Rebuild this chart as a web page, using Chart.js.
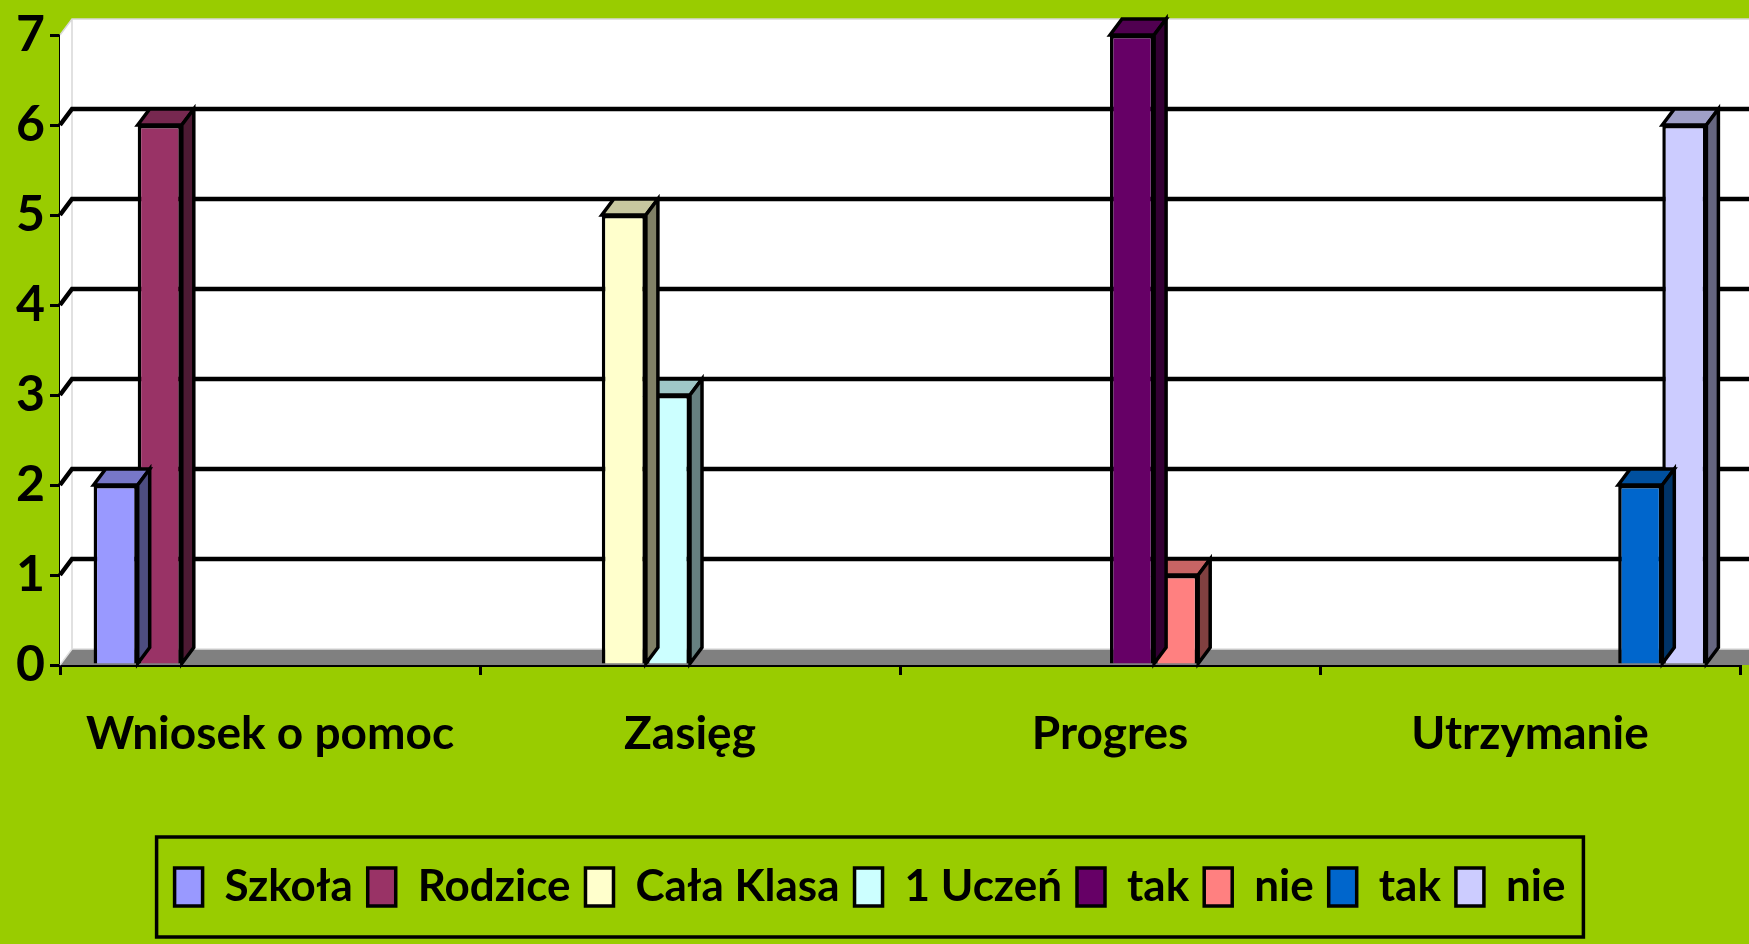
<!DOCTYPE html>
<html>
<head>
<meta charset="utf-8">
<script src="https://cdn.jsdelivr.net/npm/chart.js@4.4.0/dist/chart.umd.min.js"></script>
<style>
  html, body { margin: 0; padding: 0; background: #99CC00; }
  #wrap { width: 1749px; height: 944px; }
</style>
</head>
<body>
<div id="wrap"><canvas id="chart" width="1749" height="944"></canvas></div>
<script>
// ---- data ----
const categories = ['Wniosek o pomoc', 'Zasięg', 'Progres', 'Utrzymanie'];
const seriesNames = ['Szkoła', 'Rodzice', 'Cała Klasa', '1 Uczeń', 'tak', 'nie', 'tak', 'nie'];
const szkola     = [2, null, null, null];
const rodzice    = [6, null, null, null];
const calaKlasa  = [null, 5, null, null];
const jedenUczen = [null, 3, null, null];
const progresTak = [null, null, 7, null];
const progresNie = [null, null, 1, null];
const utrzTak    = [null, null, null, 2];
const utrzNie    = [null, null, null, 6];
const seriesValues = [szkola, rodzice, calaKlasa, jedenUczen, progresTak, progresNie, utrzTak, utrzNie];
const seriesColors = ['#9999FF', '#993366', '#FFFFCC', '#CCFFFF', '#660066', '#FF8080', '#0066CC', '#CCCCFF'];
const yTicks = [0, 1, 2, 3, 4, 5, 6, 7];

const FONT = 'Lato, "Open Sans", sans-serif';
const DX = 12, DY = -16; // depth of the fake 3d

function shade(hex, f) {
  const n = parseInt(hex.slice(1), 16);
  const r = Math.round(((n >> 16) & 255) * f);
  const g = Math.round(((n >> 8) & 255) * f);
  const b = Math.round((n & 255) * f);
  return `rgb(${r},${g},${b})`;
}

function poly(ctx, pts, fill, stroke, lw) {
  ctx.beginPath();
  ctx.moveTo(pts[0][0], pts[0][1]);
  for (let i = 1; i < pts.length; i++) ctx.lineTo(pts[i][0], pts[i][1]);
  ctx.closePath();
  if (fill) { ctx.fillStyle = fill; ctx.fill(); }
  if (stroke) { ctx.strokeStyle = stroke; ctx.lineWidth = lw; ctx.lineJoin = 'miter'; ctx.stroke(); }
}

// walls, floor and gridlines behind the bars
const wallsPlugin = {
  id: 'walls',
  beforeDatasetsDraw(chart) {
    const { ctx, chartArea: a, scales } = chart;
    const W = chart.width;
    const yTop = scales.y.getPixelForValue(7);
    const y0 = scales.y.getPixelForValue(0);
    ctx.save();
    // back wall
    poly(ctx, [[a.left + DX, yTop + DY], [W + 5, yTop + DY], [W + 5, y0 + DY], [a.left + DX, y0 + DY]], '#FFFFFF');
    // side wall
    poly(ctx, [[a.left, yTop], [a.left + DX, yTop + DY], [a.left + DX, y0 + DY], [a.left, y0]], '#FFFFFF');
    // thin edges
    ctx.strokeStyle = '#D8D8D8';
    ctx.lineWidth = 1.5;
    ctx.beginPath();
    ctx.moveTo(a.left, yTop); ctx.lineTo(a.left + DX, yTop + DY); ctx.lineTo(W + 5, yTop + DY);
    ctx.moveTo(a.left + DX, yTop + DY); ctx.lineTo(a.left + DX, y0 + DY);
    ctx.stroke();
    // gridlines
    ctx.strokeStyle = '#000000';
    ctx.lineWidth = 4.5;
    yTicks.forEach(v => {
      if (v === 0 || v === 7) return;
      const y = scales.y.getPixelForValue(v);
      ctx.beginPath();
      ctx.moveTo(a.left, y);
      ctx.lineTo(a.left + DX, y + DY);
      ctx.lineTo(W + 5, y + DY);
      ctx.stroke();
    });
    // floor
    poly(ctx, [[a.left, y0], [W + 5, y0], [W + 5 + DX, y0 + DY], [a.left + DX, y0 + DY]], '#808080');
    ctx.strokeStyle = '#E0E0E0';
    ctx.lineWidth = 1.5;
    ctx.beginPath();
    ctx.moveTo(a.left, y0); ctx.lineTo(a.left + DX, y0 + DY); ctx.lineTo(W + 5, y0 + DY);
    ctx.stroke();
    ctx.restore();
  },
  afterDatasetDraw(chart, args) {
    const { ctx } = chart;
    const meta = args.meta;
    const base = seriesColors[args.index];
    ctx.save();
    meta.data.forEach((bar, i) => {
      const v = seriesValues[args.index][i];
      if (v === null || v === undefined) return;
      const p = bar.getProps(['x', 'y', 'base', 'width'], true);
      const l = p.x - p.width / 2, r = p.x + p.width / 2;
      poly(ctx, [[l, p.y], [l + DX, p.y + DY], [r + DX, p.y + DY], [r, p.y]], shade(base, 0.78), '#000', 3.5);
      poly(ctx, [[r, p.y], [r + DX, p.y + DY], [r + DX, p.base + DY], [r, p.base]], shade(base, 0.5), '#000', 3.5);
    });
    ctx.restore();
  },
  afterDraw(chart) {
    const boxes = chart.legend.legendHitBoxes;
    if (!boxes || !boxes.length) return;
    const left = Math.min(...boxes.map(b => b.left));
    const right = Math.max(...boxes.map(b => b.left + b.width));
    const mid = boxes[0].top + boxes[0].height / 2;
    const { ctx } = chart;
    ctx.save();
    ctx.strokeStyle = '#000';
    ctx.lineWidth = 3.5;
    ctx.strokeRect(left - 18, mid - 50, right - left + 36, 100);
    ctx.restore();
  }
};

const datasets = seriesNames.map((name, i) => ({
  label: name,
  data: seriesValues[i],
  backgroundColor: seriesColors[i],
  borderColor: '#000000',
  borderWidth: 3.5
}));

new Chart(document.getElementById('chart'), {
  type: 'bar',
  data: { labels: categories, datasets },
  plugins: [wallsPlugin],
  options: {
    responsive: false,
    animation: false,
    devicePixelRatio: 1,
    layout: { padding: { top: 33, left: 0, right: 9, bottom: 25 } },
    datasets: { bar: { categoryPercentage: 0.84, barPercentage: 1 } },
    scales: {
      x: {
        afterFit: s => { s.height = 185; },
        grid: { offset: true, drawOnChartArea: false, tickLength: 10, color: '#000', lineWidth: 3 },
        border: { color: '#000', width: 3 },
        ticks: { color: '#000', font: { family: FONT, size: 46, weight: 'bold' }, padding: 32, maxRotation: 0, autoSkip: false }
      },
      y: {
        min: 0,
        max: 7,
        afterFit: s => { s.width = 60; },
        afterBuildTicks: s => { s.ticks = yTicks.map(v => ({ value: v })); },
        grid: { drawOnChartArea: false, tickLength: 10, color: '#000', lineWidth: 3 },
        border: { color: '#000', width: 3 },
        ticks: { color: '#000', font: { family: FONT, size: 50, weight: 'bold' }, padding: 5 }
      }
    },
    plugins: {
      legend: {
        position: 'bottom',
        labels: {
          color: '#000',
          font: { family: FONT, size: 44, weight: 'bold' },
          boxWidth: 28,
          boxHeight: 38,
          padding: 15
        }
      },
      tooltip: { enabled: false }
    }
  }
});
</script>
</body>
</html>
